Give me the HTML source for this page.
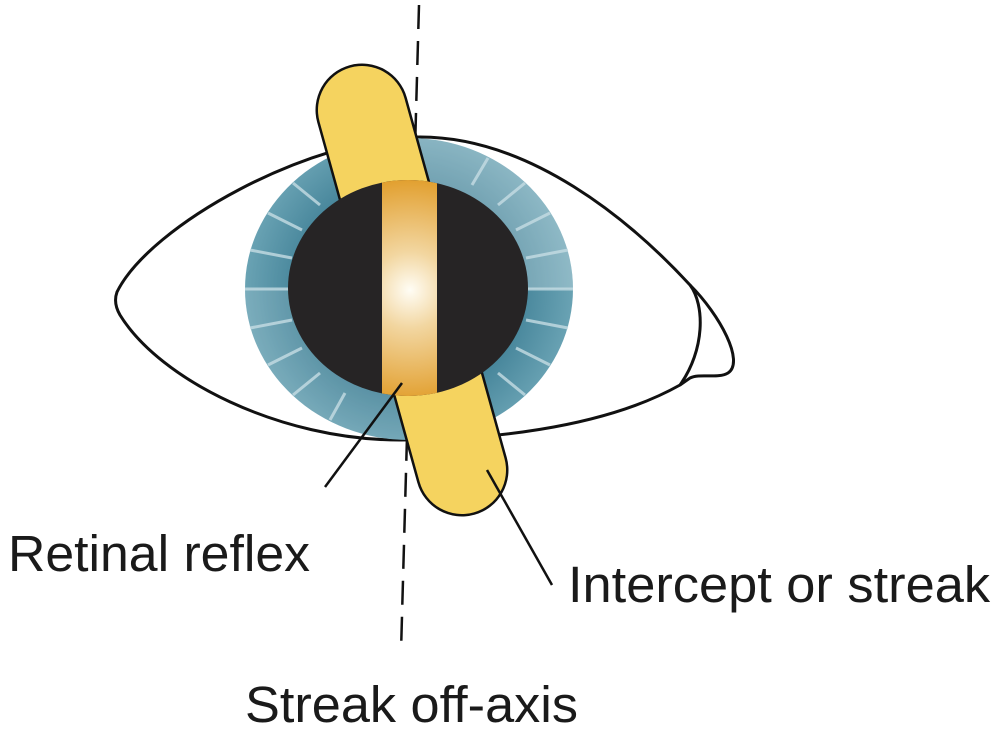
<!DOCTYPE html>
<html><head><meta charset="utf-8"><style>
html,body{margin:0;padding:0;background:#fff;}
svg{display:block;}
text{font-family:"Liberation Sans",Arial,sans-serif;font-size:51px;fill:#1a1a1a;}
</style></head><body>
<svg width="1000" height="732" viewBox="0 0 1000 732" xmlns="http://www.w3.org/2000/svg">
<defs>
<radialGradient id="iris" cx="409" cy="289" r="165" gradientUnits="userSpaceOnUse">
<stop offset="0.6" stop-color="#3f7f95"/>
<stop offset="1" stop-color="#6aa3b4"/>
</radialGradient>
<radialGradient id="glow" cx="410" cy="290" r="110" gradientUnits="userSpaceOnUse">
<stop offset="0" stop-color="#fffdf5"/>
<stop offset="0.35" stop-color="#f2d6a0"/>
<stop offset="1" stop-color="#e2a030"/>
</radialGradient>
<clipPath id="pup"><ellipse cx="408" cy="288" rx="120" ry="108"/></clipPath>
</defs>
<path d="M117,292 C150,225 310,137 420,137 C530,137 630,220 690,285 C705,305 705,350 680,385 C600,430 480,440 400,440 C280,440 160,380 120,315 Q113,303 117,292 Z" fill="#fff" stroke="#111" stroke-width="3"/>
<path d="M690,285 C720,315 745,362 728,373 C718,379 700,373 690,378 L680,385" fill="none" stroke="#111" stroke-width="3"/>
<ellipse cx="409" cy="289" rx="164" ry="151" fill="url(#iris)"/>
<path d="M409,138 A164,151 0 0 1 573,289 L409,289Z" fill="#ffffff" opacity="0.25"/>
<path d="M409,440 A164,151 0 0 1 245,289 L409,289Z" fill="#ffffff" opacity="0.12"/>
<g stroke="#c6dde4" stroke-width="3" opacity="0.8">
<line x1="245" y1="289" x2="290" y2="289"/><line x1="528" y1="289" x2="573" y2="289"/>
<line x1="250" y1="250" x2="292" y2="258"/><line x1="250" y1="328" x2="292" y2="320"/>
<line x1="568" y1="250" x2="526" y2="258"/><line x1="568" y1="328" x2="526" y2="320"/>
<line x1="268" y1="213" x2="302" y2="230"/><line x1="268" y1="365" x2="302" y2="348"/>
<line x1="550" y1="213" x2="516" y2="230"/><line x1="550" y1="365" x2="516" y2="348"/>
<line x1="293" y1="183" x2="320" y2="205"/><line x1="293" y1="395" x2="320" y2="373"/>
<line x1="525" y1="183" x2="498" y2="205"/><line x1="525" y1="395" x2="498" y2="373"/>
<line x1="330" y1="158" x2="345" y2="185"/><line x1="488" y1="158" x2="472" y2="185"/>
<line x1="330" y1="420" x2="345" y2="393"/><line x1="488" y1="420" x2="472" y2="393"/>
</g>
<line x1="419" y1="5" x2="401" y2="652" stroke="#111" stroke-width="2.5" stroke-dasharray="24,12"/>
<line x1="362" y1="110" x2="462" y2="470" stroke="#111" stroke-width="93" stroke-linecap="round"/>
<line x1="362" y1="110" x2="462" y2="470" stroke="#f5d35f" stroke-width="88" stroke-linecap="round"/>
<ellipse cx="408" cy="288" rx="120" ry="108" fill="#262425"/>
<rect x="382" y="170" width="55" height="240" fill="url(#glow)" clip-path="url(#pup)"/>
<line x1="402" y1="383" x2="325" y2="487" stroke="#111" stroke-width="2.5"/>
<line x1="487" y1="470" x2="552" y2="585" stroke="#111" stroke-width="2.5"/>
<text x="8" y="571" textLength="302" lengthAdjust="spacingAndGlyphs">Retinal reflex</text>
<text x="568" y="602" textLength="422" lengthAdjust="spacingAndGlyphs">Intercept or streak</text>
<text x="245" y="722" textLength="333" lengthAdjust="spacingAndGlyphs">Streak off-axis</text>
</svg>
</body></html>
